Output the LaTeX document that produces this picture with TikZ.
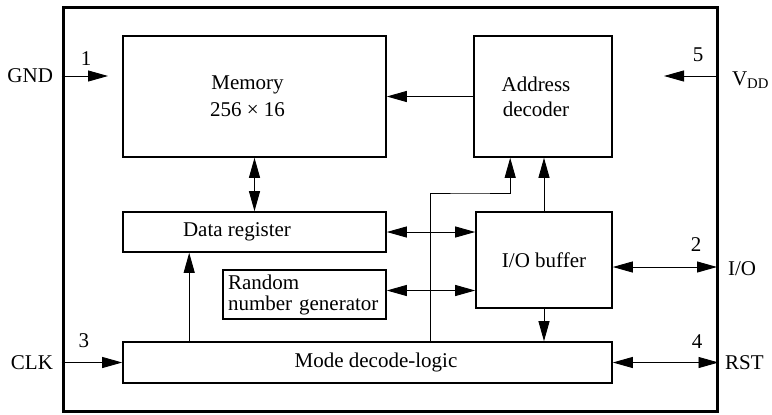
\documentclass[tikz,border=0pt]{standalone}
\usepackage{fontspec}
\setmainfont{Liberation Serif}
\usetikzlibrary{arrows.meta}

\begin{document}
\begin{tikzpicture}[x=0.5pt,y=-0.5pt,
  every node/.style={font=\fontsize{10.5}{13}\selectfont},
  block/.style={draw,line width=0.8pt,inner sep=2pt},
  frame/.style={draw,line width=1.5pt,inner sep=0pt},
  arr/.style={line width=0.45pt,-{Triangle[length=10pt,width=5.5pt]}},
  darr/.style={line width=0.45pt,{Triangle[length=10pt,width=5.5pt]}-{Triangle[length=10pt,width=5.5pt]}}]

\useasboundingbox (0,0) rectangle (772,414);

\node[frame,minimum width=327pt,minimum height=202pt] (chip) at (390,209) {};

\node[block,align=center,minimum width=131.5pt,minimum height=60.5pt,
  font=\fontsize{10.5}{13.5}\selectfont] (mem) at (254.5,96.5)%
{Memory\hspace*{7pt}\\256 × 16\hspace*{7pt}};
\node[block,align=center,minimum width=69pt,minimum height=60.5pt,
  font=\fontsize{10.5}{12.5}\selectfont] (addr) at (543,96.5)%
{Address\hspace*{7pt}\\decoder\hspace*{7pt}};
\node[block,minimum width=131.5pt,minimum height=20pt] (dreg) at (254.5,232)%
{Data register\hspace{17.5pt}\mbox{}};
\node[block,minimum width=81.5pt,minimum height=24.5pt,text width=76.5pt,
  align=left,font=\fontsize{10.5}{10.5}\selectfont] (rng) at (304.5,294.5)%
{Random\\number generator};
\node[block,minimum width=68pt,minimum height=48pt] (iobuf) at (544,260)%
{I/O buffer};
\node[block,minimum width=244.5pt,minimum height=20.5pt] (mode) at (367.5,362.5)%
{\hspace{8.5pt}Mode decode-logic};

\node[anchor=east] (gnd) at (60,76) {GND};
\node[anchor=east] (clk) at (60,363) {CLK};
\node[anchor=west] (vdd) at (725,80) {V\textsubscript{DD}};
\node[anchor=west] (io) at (721,269) {I/O};
\node[anchor=west] (rst) at (718,363) {RST};

\node (pin1) at (86,59) {1};
\node (pin2) at (696,245) {2};
\node (pin3) at (84,341) {3};
\node (pin4) at (697,342) {4};
\node (pin5) at (698,55) {5};

\coordinate (gndtip) at (108,76);
\coordinate (vddtip) at (664,76);
\coordinate (iopin) at (717,267);
\coordinate (bend) at (470,193);

\draw[arr] (chip.west |- gndtip) -- (gndtip);
\draw[arr] (chip.east |- vddtip) -- (vddtip);
\draw[darr] (iobuf.east |- iopin) -- (iopin);
\draw[darr] (mode.east) -- (mode.east -| chip.east);
\draw[arr] (mode.west -| chip.west) -- (mode.west);

\draw[arr] (addr.west) -- (mem.east);
\draw[darr] (mem.south) -- (dreg.north);
\draw[darr] (dreg.east) -- (dreg.east -| iobuf.west);
\draw[darr] ([yshift=2pt]rng.east) -- ([yshift=2pt]rng.east -| iobuf.west);
\draw[arr] (iobuf.south) -- (iobuf.south |- mode.north);
\draw[arr] (iobuf.north) -- (iobuf.north |- addr.south);
\draw[arr] ([xshift=33.5pt]mode.north west) -- ([xshift=33.5pt]dreg.south west);
\draw[arr] ([xshift=154pt]mode.north west) |- (bend) -| ([xshift=18.5pt]addr.south west);

\end{tikzpicture}
\end{document}
